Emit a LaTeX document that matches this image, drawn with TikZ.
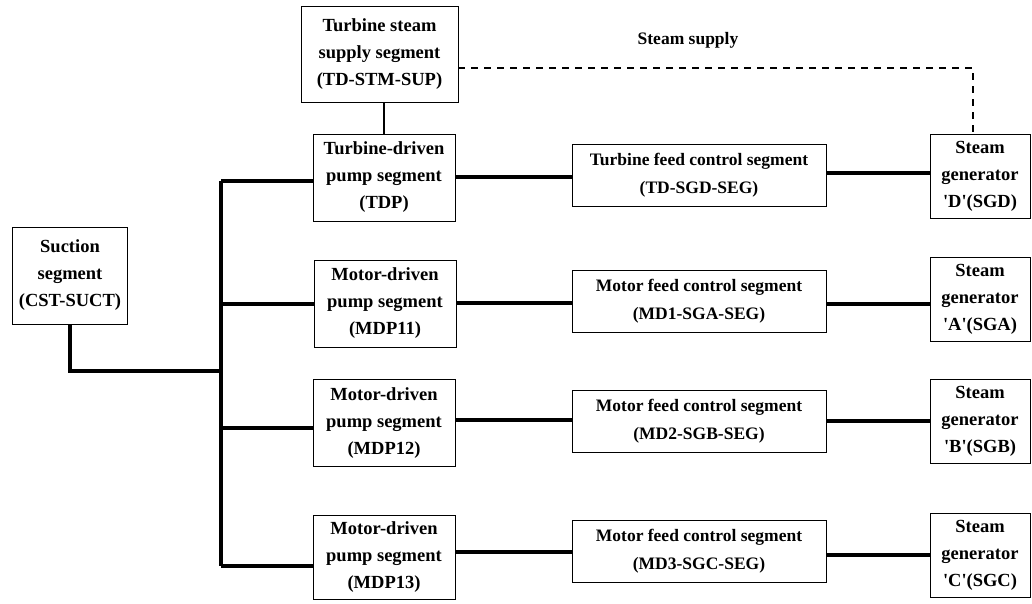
\documentclass[tikz,border=0pt]{standalone}
\usepackage{fontspec}
\setmainfont{Liberation Serif}
\begin{document}
\begin{tikzpicture}[x=1pt,y=-1pt,
  box/.style={draw, line width=0.8pt, align=center, inner sep=0pt,
    font=\bfseries\fontsize{18.5}{27}\selectfont},
  pumpbox/.style={box, minimum width=142pt, minimum height=87pt},
  feedbox/.style={box, minimum width=254pt, minimum height=62pt,
    font=\bfseries\fontsize{17.5}{28}\selectfont},
  sgbox/.style={box, minimum width=100pt, minimum height=84pt},
  pipe/.style={line width=4pt, line join=miter},
  link/.style={line width=1.1pt},
  supply/.style={line width=1.4pt, dash pattern=on 7pt off 6pt}
]
\useasboundingbox (0,0) rectangle (1032,603);

% source and steam supply
\node[box, minimum width=115pt, minimum height=97pt] (suct) at (70,275.5)
  {Suction\\segment\\(CST-SUCT)};
\node[box, minimum width=157pt, minimum height=96pt] (tss) at (379.5,54)
  {Turbine steam\\supply segment\\(TD-STM-SUP)};

% pump segments
\node[pumpbox] (tdp)   at (384,177.5) {Turbine-driven\\pump segment\\(TDP)};
\node[pumpbox] (mdp11) at (385,303.5) {Motor-driven\\pump segment\\(MDP11)};
\node[pumpbox] (mdp12) at (384,423) {Motor-driven\\pump segment\\(MDP12)};
\node[pumpbox, minimum height=84pt] (mdp13) at (384,557) {Motor-driven\\pump segment\\(MDP13)};

% feed control segments
\node[feedbox] (fdd) at (699,175) {Turbine feed control segment\\(TD-SGD-SEG)};
\node[feedbox] (fda) at (699,301) {Motor feed control segment\\(MD1-SGA-SEG)};
\node[feedbox] (fdb) at (699,421) {Motor feed control segment\\(MD2-SGB-SEG)};
\node[feedbox] (fdc) at (699,551) {Motor feed control segment\\(MD3-SGC-SEG)};

% steam generators
\node[sgbox] (sgd) at (980,176) {Steam\\generator\\\textquotesingle D\textquotesingle(SGD)};
\node[sgbox] (sga) at (980,299) {Steam\\generator\\\textquotesingle A\textquotesingle(SGA)};
\node[sgbox] (sgb) at (980,421) {Steam\\generator\\\textquotesingle B\textquotesingle(SGB)};
\node[sgbox] (sgc) at (980,555) {Steam\\generator\\\textquotesingle C\textquotesingle(SGC)};

% suction header
\coordinate (jt) at (221,181);
\coordinate (jb) at (221,566);
\draw[pipe] (suct.south) |- (jt |- 0,371);
\draw[pipe] (jt) -- (jb);
\draw[pipe] (jt) -- (tdp.west |- jt);
\draw[pipe] (jt |- mdp11.west) -- (mdp11.west);
\draw[pipe] (jt |- 0,428) -- (mdp12.west |- 0,428);
\draw[pipe] (jb) -- (mdp13.west |- jb);

% pump to feed control to steam generator
\draw[pipe] (tdp.east |- 0,177)   -- (fdd.west |- 0,177);
\draw[pipe] (mdp11.east |- 0,303) -- (fda.west |- 0,303);
\draw[pipe] (mdp12.east |- 0,420) -- (fdb.west |- 0,420);
\draw[pipe] (mdp13.east |- 0,552) -- (fdc.west |- 0,552);
\draw[pipe] (fdd.east |- 0,173) -- (sgd.west |- 0,173);
\draw[pipe] (fda.east |- 0,304) -- (sga.west |- 0,304);
\draw[pipe] (fdb.east |- 0,421) -- (sgb.west |- 0,421);
\draw[pipe] (fdc.east |- 0,555) -- (sgc.west |- 0,555);

% turbine steam
\draw[link] (tdp.north |- tss.south) -- (tdp.north);
\draw[supply] ([yshift=-14pt]tss.east) -| ([xshift=-7pt]sgd.north);
\node[font=\bfseries\fontsize{17.5}{20}\selectfont] (lbl) at (688,40) {Steam supply};
\end{tikzpicture}
\end{document}
